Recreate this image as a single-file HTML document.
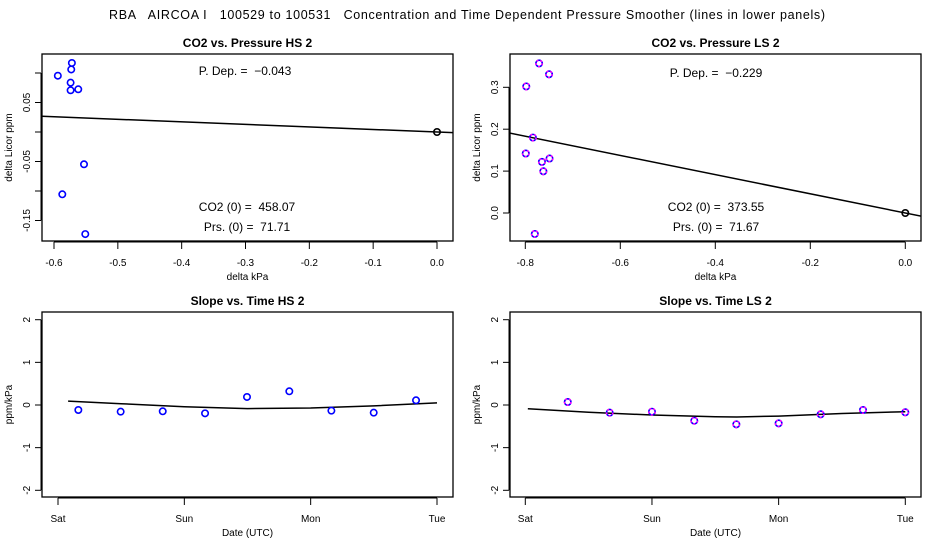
<!DOCTYPE html>
<html><head><meta charset="utf-8"><style>
html,body{margin:0;padding:0;background:#fff;}
svg{display:block;font-family:"Liberation Sans",Arial,sans-serif;}
</style></head><body>
<svg id="chart" width="936" height="540" viewBox="0 0 936 540" xmlns="http://www.w3.org/2000/svg">
<text x="467" y="19" text-anchor="middle" font-size="12.5" style="white-space:pre" xml:space="preserve" textLength="716">RBA   AIRCOA I   100529 to 100531   Concentration and Time Dependent Pressure Smoother (lines in lower panels)</text>
</svg>
<script>
// Panel 1: CO2 vs Pressure HS 2
const hsPx = [-0.594,-0.572,-0.573,-0.574,-0.574,-0.562,-0.553,-0.587,-0.551];
const hsPy = [0.0954,0.117,0.106,0.0836,0.0707,0.0724,-0.0547,-0.1056,-0.173];
const hsSlope = -0.043;
const hsXTicks = [-0.6,-0.5,-0.4,-0.3,-0.2,-0.1,0.0];
const hsXTickLabels = ["-0.6","-0.5","-0.4","-0.3","-0.2","-0.1","0.0"];
const hsYTicks = [0.1,0.05,0,-0.05,-0.1,-0.15];
const hsYTickLabels = ["","0.05","","-0.05","","-0.15"];
// Panel 2: CO2 vs Pressure LS 2
const lsPx = [-0.771,-0.750,-0.798,-0.784,-0.799,-0.765,-0.749,-0.762,-0.780];
const lsPy = [0.357,0.331,0.302,0.180,0.142,0.122,0.130,0.0995,-0.050];
const lsSlope = -0.229;
const lsXTicks = [-0.8,-0.6,-0.4,-0.2,0.0];
const lsXTickLabels = ["-0.8","-0.6","-0.4","-0.2","0.0"];
const lsYTicks = [0,0.1,0.2,0.3];
const lsYTickLabels = ["0.0","0.1","0.2","0.3"];
// Panel 3: Slope vs Time HS 2 (days since Sat)
const hsTime = [0.161,0.496,0.829,1.164,1.496,1.831,2.164,2.499,2.834];
const hsSlopeVals = [-0.117,-0.156,-0.148,-0.195,0.188,0.321,-0.133,-0.18,0.110];
const hsSmoothT = [0.08,0.5,1.0,1.5,2.0,2.5,3.0];
const hsSmoothV = [0.09,0.03,-0.04,-0.085,-0.07,-0.02,0.05];
// Panel 4: Slope vs Time LS 2
const lsTime = [0.335,0.666,1.0,1.334,1.666,2.0,2.332,2.666,3.0];
const lsSlopeVals = [0.07,-0.18,-0.157,-0.368,-0.453,-0.43,-0.218,-0.117,-0.171];
const lsSmoothT = [0.02,0.5,1.0,1.5,1.67,2.0,2.5,3.0];
const lsSmoothV = [-0.087,-0.17,-0.235,-0.275,-0.28,-0.26,-0.2,-0.157];
const dayTicks = [0,1,2,3];
const dayLabels = ["Sat","Sun","Mon","Tue"];
const slopeYTicks = [-2,-1,0,1,2];
const slopeYLabels = ["-2","-1","0","1","2"];

const svg = document.getElementById('chart');
const NS = 'http://www.w3.org/2000/svg';
function mk(tag, attrs, parent){
  const e = document.createElementNS(NS, tag);
  for (const k in attrs) e.setAttribute(k, attrs[k]);
  (parent||svg).appendChild(e);
  return e;
}
function txt(x,y,s,size,anchor,parent,extra){
  const t = mk('text',Object.assign({x:x,y:y,'font-size':size,'text-anchor':anchor||'middle'},extra||{}),parent);
  t.textContent = s;
  return t;
}
function lin(d0,d1,p0,p1){ return v => p0 + (v-d0)*(p1-p0)/(d1-d0); }

function panel(o){
  const g = mk('g',{});
  
  
  const box = mk('rect',{x:o.x0,y:o.y0,width:o.x1-o.x0,height:o.y1-o.y0,fill:'none',stroke:'#000','stroke-width':1.3},g);
  
  
  const t = txt((o.x0+o.x1)/2, o.y0-7, o.title, 12, 'middle', g, {'font-weight':'bold'});
  
  
  // x axis
  const xa = mk('g',{},g);
  
  
  const xs0 = o.sx(o.xt[0]), xs1 = o.sx(o.xt[o.xt.length-1]);
  mk('line',{x1:xs0,x2:xs1,y1:o.y1+1,y2:o.y1+1,stroke:'#000'},xa);
  o.xt.forEach((v,i)=>{
    const px=o.sx(v);
    mk('line',{x1:px,x2:px,y1:o.y1+1,y2:o.y1+8,stroke:'#000'},xa);
    const l = txt(px,o.y1+25,o.xl[i],10,'middle',xa);
    
    
  });
  const xt = txt((o.x0+o.x1)/2,o.y1+39,o.xtitle,10,'middle',g);
  
  
  // y axis
  const ya = mk('g',{},g);
  
  
  const ys = o.yt.map(o.sy);
  mk('line',{x1:o.x0-1,x2:o.x0-1,y1:Math.min(...ys),y2:Math.max(...ys),stroke:'#000'},ya);
  o.yt.forEach((v,i)=>{
    const py=o.sy(v);
    mk('line',{x1:o.x0-7,x2:o.x0-1,y1:py,y2:py,stroke:'#000'},ya);
    if(o.yl[i]){
      const l = txt(0,0,o.yl[i],10,'middle',ya,{transform:`translate(${o.x0-12},${py}) rotate(-90)`});
      
      
    }
  });
  const yt = txt(0,0,o.ytitle,10,'middle',g,{transform:`translate(${o.x0-30},${(o.y0+o.y1)/2}) rotate(-90)`});
  
  
  return g;
}
function clipFor(id,o){
  const cp = mk('clipPath',{id:id});
  mk('rect',{x:o.x0,y:o.y0,width:o.x1-o.x0,height:o.y1-o.y0},cp);
}
function pts(g,xs,ys,o,magenta){
  xs.forEach((v,i)=>{
    const cx=o.sx(v), cy=o.sy(ys[i]);
    const c = mk('circle',{cx:cx,cy:cy,r:3.2,fill:'none',stroke:'#0000ff','stroke-width':1.6},g);
    
    
    if(magenta){
      mk('circle',{cx:cx,cy:cy,r:3.2,fill:'none',stroke:'#ff00ff','stroke-width':1.6,'stroke-dasharray':'2 2'},g);
    }
  });
}

// Panel 1
const o1 = {name:'co2-vs-pressure-hs-panel',title:'CO2 vs. Pressure HS 2',x0:42,x1:453,y0:54,y1:241,
  sx:lin(-0.6,0,54,437), sy:lin(0,0.05,132,102.5), xt:hsXTicks, xl:hsXTickLabels, yt:hsYTicks, yl:hsYTickLabels,
  xtitle:'delta kPa', ytitle:'delta Licor ppm'};
const g1 = panel(o1);
clipFor('c1',o1);
const fit1 = mk('line',{x1:o1.sx(-0.7),y1:o1.sy(-0.7*hsSlope),x2:o1.sx(0.1),y2:o1.sy(0.1*hsSlope),stroke:'#000','stroke-width':1.5,'clip-path':'url(#c1)'},g1);


pts(g1,hsPx,hsPy,o1,false);
mk('circle',{cx:o1.sx(0),cy:o1.sy(0),r:3.2,fill:'none',stroke:'#000','stroke-width':1.6},g1);
txt(245,75,'P. Dep. =  '+hsSlope.toFixed(3).replace('-','\u2212'),12,'middle',g1,{style:'white-space:pre'});
txt(247,211,'CO2 (0) =  458.07',12,'middle',g1,{style:'white-space:pre'});
txt(247,231,'Prs. (0) =  71.71',12,'middle',g1,{style:'white-space:pre'});

// Panel 2
const o2 = {name:'co2-vs-pressure-ls-panel',title:'CO2 vs. Pressure LS 2',x0:510,x1:921,y0:54,y1:241,
  sx:lin(-0.8,0,525.3,905.3), sy:lin(0,0.3,213,87.3), xt:lsXTicks, xl:lsXTickLabels, yt:lsYTicks, yl:lsYTickLabels,
  xtitle:'delta kPa', ytitle:'delta Licor ppm'};
const g2 = panel(o2);
clipFor('c2',o2);
const fit2 = mk('line',{x1:o2.sx(-0.9),y1:o2.sy(-0.9*lsSlope),x2:o2.sx(0.1),y2:o2.sy(0.1*lsSlope),stroke:'#000','stroke-width':1.5,'clip-path':'url(#c2)'},g2);


pts(g2,lsPx,lsPy,o2,true);
mk('circle',{cx:o2.sx(0),cy:o2.sy(0),r:3.2,fill:'none',stroke:'#000','stroke-width':1.6},g2);
txt(716,77,'P. Dep. =  '+lsSlope.toFixed(3).replace('-','\u2212'),12,'middle',g2,{style:'white-space:pre'});
txt(716,211,'CO2 (0) =  373.55',12,'middle',g2,{style:'white-space:pre'});
txt(716,231,'Prs. (0) =  71.67',12,'middle',g2,{style:'white-space:pre'});

// Panel 3
const o3 = {name:'slope-vs-time-hs-panel',title:'Slope vs. Time HS 2',x0:42,x1:453,y0:312,y1:497,
  sx:lin(0,3,58,437), sy:lin(0,2,405,319.7), xt:dayTicks, xl:dayLabels, yt:slopeYTicks, yl:slopeYLabels,
  xtitle:'Date (UTC)', ytitle:'ppm/kPa'};
const g3 = panel(o3);
const sm3 = mk('polyline',{points:hsSmoothT.map((t,i)=>o3.sx(t)+','+o3.sy(hsSmoothV[i])).join(' '),fill:'none',stroke:'#000','stroke-width':1.5},g3);


pts(g3,hsTime,hsSlopeVals,o3,false);

// Panel 4
const o4 = {name:'slope-vs-time-ls-panel',title:'Slope vs. Time LS 2',x0:510,x1:921,y0:312,y1:497,
  sx:lin(0,3,525.3,905.3), sy:lin(0,2,405,319.7), xt:dayTicks, xl:dayLabels, yt:slopeYTicks, yl:slopeYLabels,
  xtitle:'Date (UTC)', ytitle:'ppm/kPa'};
const g4 = panel(o4);
const sm4 = mk('polyline',{points:lsSmoothT.map((t,i)=>o4.sx(t)+','+o4.sy(lsSmoothV[i])).join(' '),fill:'none',stroke:'#000','stroke-width':1.5},g4);


pts(g4,lsTime,lsSlopeVals,o4,true);
</script>
</body></html>
